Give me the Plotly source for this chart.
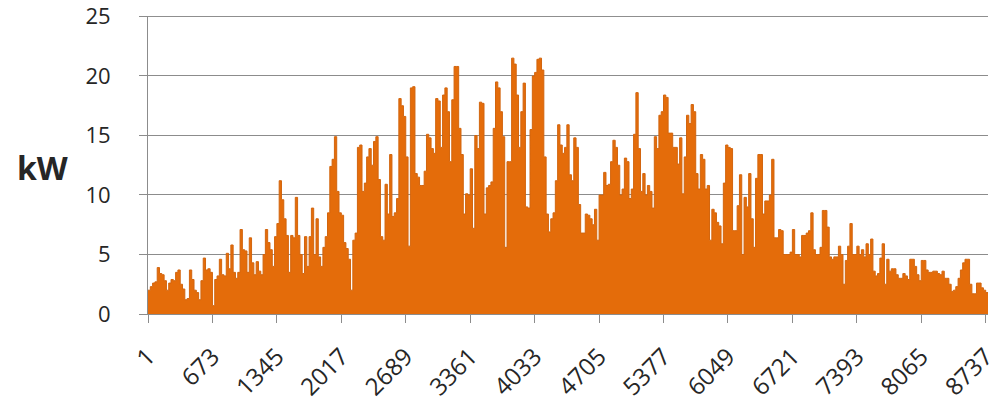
import plotly.graph_objects as go

# Daily peak load (kW) over one year of hourly data (8760 h)
daily_peak_kw = [
    2.0, 2.3, 2.6, 2.7, 3.9, 3.4, 3.3, 2.8, 2.0, 2.6,
    2.9, 2.8, 3.5, 3.7, 2.5, 2.1, 1.2, 1.3, 3.7, 2.9,
    2.0, 1.8, 1.2, 2.8, 4.7, 3.7, 3.8, 3.5, 0.7, 2.9,
    3.2, 4.6, 3.3, 3.2, 5.1, 3.8, 5.8, 3.5, 3.0, 3.5,
    7.1, 5.4, 5.3, 3.5, 6.4, 4.3, 3.3, 4.4, 3.6, 3.3,
    5.0, 7.1, 6.0, 5.4, 4.0, 6.5, 7.6, 11.2, 9.6, 8.0,
    6.6, 3.5, 6.6, 6.4, 9.8, 6.6, 5.0, 3.4, 6.5, 4.0,
    6.5, 8.9, 5.0, 8.0, 4.8, 4.0, 5.6, 6.5, 8.5, 12.4,
    13.0, 14.9, 10.3, 8.5, 8.3, 6.0, 5.5, 4.6, 2.0, 6.2,
    6.8, 14.0, 14.2, 10.3, 11.0, 13.2, 13.9, 12.5, 14.5, 14.9,
    11.3, 6.5, 6.2, 10.9, 8.4, 13.4, 8.2, 8.5, 9.7, 18.1,
    17.5, 16.6, 13.2, 5.7, 19.0, 19.1, 11.8, 11.5, 10.8, 10.8,
    12.0, 15.1, 14.8, 13.9, 13.5, 18.1, 17.9, 14.0, 18.4, 19.0,
    17.0, 12.8, 18.0, 20.8, 20.8, 15.6, 13.4, 8.4, 10.1, 10.0,
    12.2, 7.2, 15.0, 13.9, 17.8, 17.7, 8.4, 10.6, 10.8, 11.1,
    15.6, 19.5, 19.0, 17.0, 14.9, 5.6, 12.8, 12.8, 21.5, 21.0,
    18.4, 14.0, 17.0, 19.4, 9.0, 8.9, 15.5, 20.0, 20.3, 21.4,
    21.5, 20.5, 13.2, 8.4, 6.9, 8.0, 8.5, 11.2, 15.9, 14.2,
    13.5, 14.0, 15.9, 11.7, 11.2, 14.8, 14.0, 9.2, 6.8, 6.8,
    8.4, 8.3, 8.0, 7.5, 8.8, 6.2, 10.0, 10.0, 11.9, 10.8,
    10.9, 12.8, 14.6, 14.0, 12.5, 10.0, 10.5, 13.1, 12.8, 9.7,
    10.5, 15.1, 18.6, 13.9, 10.3, 11.8, 10.0, 10.8, 10.3, 8.9,
    14.9, 13.9, 16.7, 17.0, 18.4, 18.2, 15.2, 15.2, 14.0, 14.0,
    12.6, 14.8, 10.1, 13.2, 16.7, 16.0, 17.6, 17.0, 11.8, 10.5,
    13.4, 13.0, 10.5, 10.8, 6.2, 8.8, 8.5, 7.7, 7.4, 5.9,
    11.0, 14.2, 14.0, 13.9, 7.0, 7.0, 9.1, 11.7, 5.0, 9.8,
    9.0, 11.8, 8.0, 5.6, 11.4, 13.4, 13.4, 8.4, 9.5, 9.5,
    10.0, 13.0, 6.4, 6.4, 7.1, 7.0, 5.0, 5.0, 5.0, 5.2,
    7.1, 5.0, 5.0, 4.8, 6.6, 6.6, 6.8, 7.0, 8.5, 5.4,
    5.0, 5.0, 5.6, 8.7, 8.7, 7.3, 4.8, 4.6, 4.8, 4.8,
    5.7, 5.0, 2.5, 4.5, 5.7, 7.6, 5.0, 5.0, 5.7, 5.0,
    5.4, 4.8, 5.9, 5.0, 6.3, 3.6, 3.2, 3.4, 4.7, 5.9,
    2.5, 4.6, 3.6, 3.8, 3.8, 3.3, 3.0, 3.0, 3.4, 3.2,
    2.9, 4.6, 4.6, 4.0, 3.3, 2.8, 4.5, 4.5, 3.7, 3.5,
    3.5, 3.6, 3.6, 3.4, 3.3, 3.6, 3.0, 3.0, 2.5, 1.9,
    2.0, 2.3, 3.0, 3.7, 4.3, 4.6, 4.6, 2.5, 1.7, 1.7,
    2.6, 2.6, 2.2, 2.0, 1.8,
]

hours_per_day = 24
total_hours = 8760

# Hour labels shown on the category axis (every 672 h)
hour_ticks = [1, 673, 1345, 2017, 2689, 3361, 4033, 4705, 5377, 6049, 6721, 7393, 8065, 8737]
y_ticks = [0, 5, 10, 15, 20, 25]
y_max = 25

# Step outline: each day holds its value from its first hour to the next day
step_x = [0.5 + d * hours_per_day for d in range(len(daily_peak_kw))] + [total_hours + 0.5]
step_y = daily_peak_kw + [daily_peak_kw[-1]]

text_color = "#262626"
grid_color = "#8c8c8c"
font_family = "Open Sans, Noto Sans, sans-serif"

fig = go.Figure()
fig.add_trace(go.Scatter(
    x=step_x,
    y=step_y,
    mode="lines",
    line=dict(shape="hv", color="#D2650E", width=1),
    fill="tozeroy",
    fillcolor="#E46C0A",
    hoverinfo="skip",
    showlegend=False,
))

fig.update_layout(
    width=998,
    height=408,
    autosize=False,
    margin=dict(l=148, r=10, t=16, b=94, autoexpand=False),
    paper_bgcolor="white",
    plot_bgcolor="white",
    font=dict(family=font_family, color=text_color),
    xaxis=dict(
        range=[0.5, total_hours + 0.5],
        tickmode="array",
        tickvals=hour_ticks,
        ticktext=[str(h) for h in hour_ticks],
        tickangle=-45,
        tickfont=dict(size=24, color=text_color),
        ticks="outside",
        ticklen=8,
        tickcolor=grid_color,
        ticklabelstandoff=10,
        ticklabeloverflow="allow",
        automargin=False,
        showgrid=False,
        showline=True,
        linecolor=grid_color,
        linewidth=1,
        zeroline=False,
    ),
    yaxis=dict(
        range=[0, 25.04],
        tickmode="array",
        tickvals=y_ticks,
        tickfont=dict(size=22, color=text_color),
        ticks="outside",
        ticklen=8,
        tickcolor=grid_color,
        ticklabelstandoff=24,
        ticklabeloverflow="allow",
        automargin=False,
        showgrid=True,
        gridcolor=grid_color,
        gridwidth=1,
        showline=True,
        linecolor=grid_color,
        linewidth=1,
        zeroline=False,
    ),
)

# Gridline at the top of the value range
fig.add_shape(
    type="line",
    xref="paper", yref="y",
    x0=0, x1=1, y0=y_max, y1=y_max,
    line=dict(color=grid_color, width=1),
    layer="below",
)

fig.add_annotation(
    text="<b>kW</b>",
    xref="paper", yref="paper",
    x=-0.126, y=0.49,
    xanchor="center", yanchor="middle",
    showarrow=False,
    font=dict(size=32, color=text_color, family=font_family),
)

fig.write_html("out.html")
